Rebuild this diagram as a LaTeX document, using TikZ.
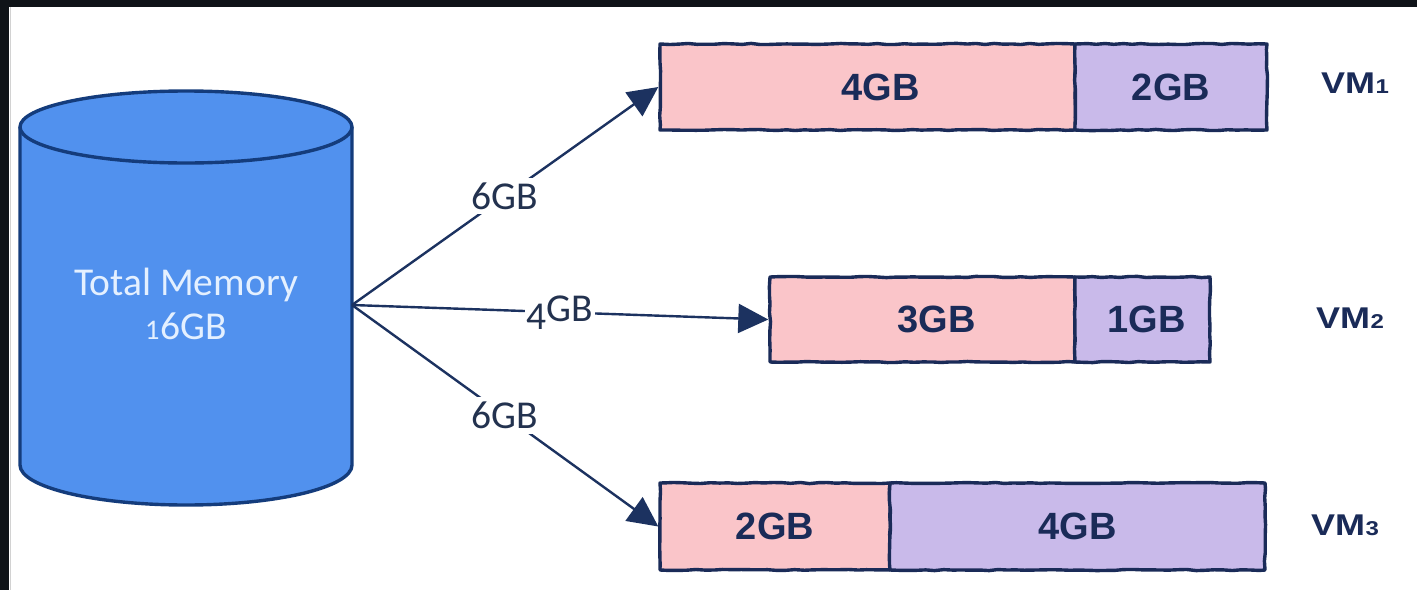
\documentclass[tikz,border=0pt]{standalone}
\usepackage{fontspec}
\usepackage{graphicx}
\setmainfont{Carlito}
\newfontfamily\boxfont{Liberation Sans}
\usetikzlibrary{arrows.meta,decorations.pathmorphing}

\definecolor{navy}{HTML}{1A2B58}
\definecolor{linecol}{HTML}{1C3260}
\definecolor{cylfill}{HTML}{5191EE}
\definecolor{cylline}{HTML}{143C7C}
\definecolor{pinkfill}{HTML}{FAC5C9}
\definecolor{lilac}{HTML}{C9BAEA}
\definecolor{framecol}{HTML}{0F1318}
\definecolor{labeltext}{HTML}{23324F}
\definecolor{cyltext}{HTML}{E4F0FF}

\tikzset{
  seg/.style={draw=navy, line width=3.4pt, inner sep=0pt, line join=round,
    font=\boxfont\bfseries\fontsize{38}{38}\selectfont, text=navy,
    decorate, decoration={random steps, segment length=9pt, amplitude=0.6pt}},
  memseg/.style={seg, fill=pinkfill},
  swapseg/.style={seg, fill=lilac},
  vmlabel/.style={font=\boxfont\bfseries\fontsize{30}{30}\selectfont, text=navy},
  flow/.style={draw=linecol, line width=2.4pt, -{Triangle[length=30pt,width=29pt]}},
  flowlabel/.style={fill=white, inner sep=5pt, font=\fontsize{39.5}{39.5}\selectfont, text=labeltext},
  cylborder/.style={draw=cylline, line width=3.4pt, line join=round},
}
% wide VM name with a small figure after it
\newcommand{\vmname}[1]{\scalebox{1.2}[1]{VM{\fontsize{20}{20}\selectfont\kern0.5pt#1}}}
% old-style looking figures for the humanist labels
\newcommand{\osone}{\scalebox{0.72}{1}\kern1pt}
\newcommand{\osfour}{\raisebox{-0.2em}{4}}

\begin{document}
\begin{tikzpicture}[x=1pt,y=-1pt]
\pgfmathsetseed{11}
\useasboundingbox (0,0) rectangle (1417,590);
\fill[white] (0,0) rectangle (1417,590);
% dark frame strips
\fill[framecol] (0,0) rectangle (1417,7);
\fill[framecol] (0,0) rectangle (9,590);
\draw[gray!35, line width=1pt] (10.5,7) -- (10.5,590);

% memory cylinder
\fill[cylfill] (20,127) -- (20,465)
  arc[start angle=180, end angle=360, x radius=166pt, y radius=40pt]
  -- (352,127)
  arc[start angle=0, end angle=180, x radius=166pt, y radius=36pt] -- cycle;
\draw[cylborder] (20,127) -- (20,465)
  arc[start angle=180, end angle=360, x radius=166pt, y radius=40pt]
  -- (352,127);
\draw[cylborder] (186,127) ellipse[x radius=166pt, y radius=36pt];
\node[align=center, text=cyltext, font=\fontsize{39.5}{44}\selectfont] (mem) at (186,304)
  {Total Memory\\\osone6GB};
\coordinate (hub) at (352,305);

% VM 1
\node[memseg, minimum width=415pt, minimum height=86pt] (b1a) at (867.5,87) {\hspace*{26pt}4GB};
\node[swapseg, minimum width=192pt, minimum height=86pt] (b1b) at (1171,87) {2GB};
\node[vmlabel] (vm1) at (1355,83) {\vmname{1}};

% VM 2
\node[memseg, minimum width=305pt, minimum height=85pt] (b2a) at (922.5,319.5) {\hspace*{28pt}3GB};
\node[swapseg, minimum width=135pt, minimum height=85pt] (b2b) at (1142.5,319.5) {\hspace*{8pt}1GB};
\node[vmlabel] (vm2) at (1350,318) {\vmname{2}};

% VM 3
\node[memseg, minimum width=230pt, minimum height=87pt] (b3a) at (775,526.5) {2GB};
\node[swapseg, minimum width=375pt, minimum height=87pt] (b3b) at (1077.5,526.5) {4GB};
\node[vmlabel] (vm3) at (1345,525) {\vmname{3}};

% allocations
\draw[flow] (hub) -- node[flowlabel] {6GB} (b1a.west);
\draw[flow] (hub) -- node[flowlabel, inner sep=2pt] {\osfour GB} (b2a.west);
\draw[flow] (hub) -- node[flowlabel] {6GB} (b3a.west);
\end{tikzpicture}
\end{document}
